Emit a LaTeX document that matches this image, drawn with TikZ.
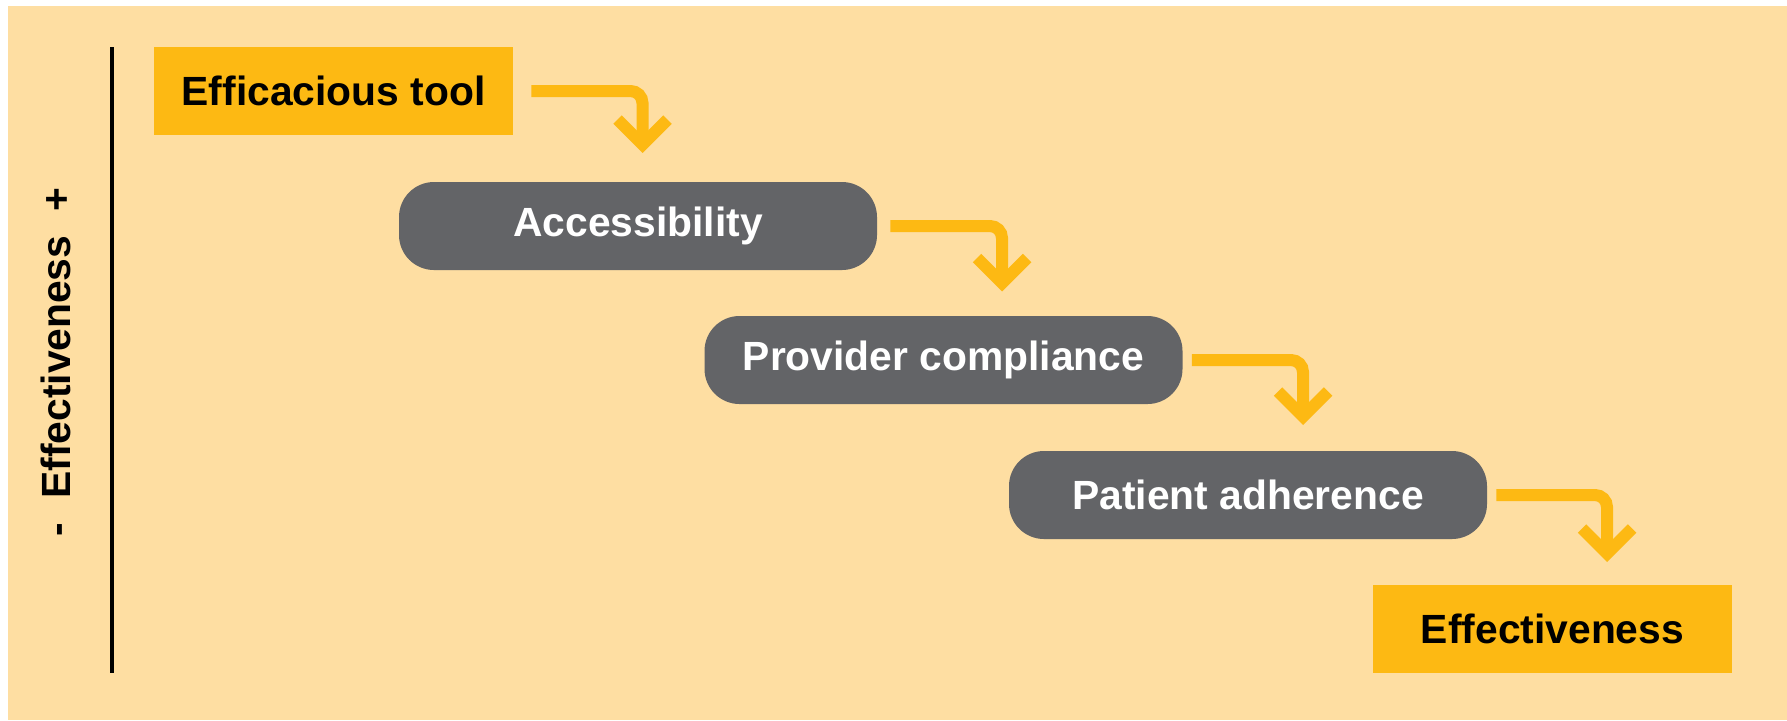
\documentclass[tikz,border=0pt]{standalone}
\usepackage{fontspec}
\setmainfont{Liberation Sans}
\usepackage{color}
\definecolor{mypeach}{RGB}{254,222,162}
\definecolor{myorange}{RGB}{253,185,19}
\definecolor{mygray}{RGB}{99,100,103}
\usepackage{tikz}
\usetikzlibrary{calc,positioning}
\tikzstyle{stage}=[fill=mygray,rounded corners=17.5pt,minimum width=239pt,minimum height=44pt,inner sep=0pt,text=white]
\tikzstyle{goal}=[fill=myorange,minimum width=179.5pt,minimum height=44pt,inner sep=0pt,text=black]

\begin{document}
\begin{tikzpicture}[
  x=0.5pt,y=-0.5pt,
  every node/.style={font=\fontsize{20.4pt}{24pt}\selectfont\bfseries},
  flow/.style={draw=myorange,line width=6pt,rounded corners=6pt},
  head/.style={draw=myorange,line width=6pt,miter limit=10}
]
\useasboundingbox (0,0) rectangle (1787,720);
\fill[white] (0,0) rectangle (1787,720);
\fill[mypeach] (8,6) rectangle (1787,720);

% axis
\coordinate (top) at (112,47);
\coordinate (bot) at (112,673);
\draw[line width=2pt] (top) -- (bot);
\node[rotate=90] (axis) at (56,362) {-\hspace{0.6em}Effectiveness\hspace{0.6em}+};

% steps
\node [goal] (tool) at (333.5,91) {Efficacious tool};
\node [stage] (access) at (638,226) {Accessibility};
\node [stage] (provider) at (943.5,360) {Provider compliance};
\node [stage] (patient) at (1248,495) {Patient adherence};
\node [goal] (effect) at (1552.5,628.5) {Effectiveness};

% arrow heads
\coordinate (v1) at (642.5,144.5);
\coordinate (v2) at (1002,283);
\coordinate (v3) at (1303,416.5);
\coordinate (v4) at (1607,553.5);

\draw[flow] ([xshift=9pt]tool.east) -| (v1);
\draw[flow] ([xshift=6.5pt]access.east) -| (v2);
\draw[flow] ([xshift=4.5pt]provider.east) -| (v3);
\draw[flow] ([xshift=4.5pt]patient.east) -| (v4);

\foreach \v in {v1,v2,v3,v4}
  \draw[head] (\v) ++(-25,-25) -- (\v) -- ++(25,-25);

\end{tikzpicture}
\end{document}
